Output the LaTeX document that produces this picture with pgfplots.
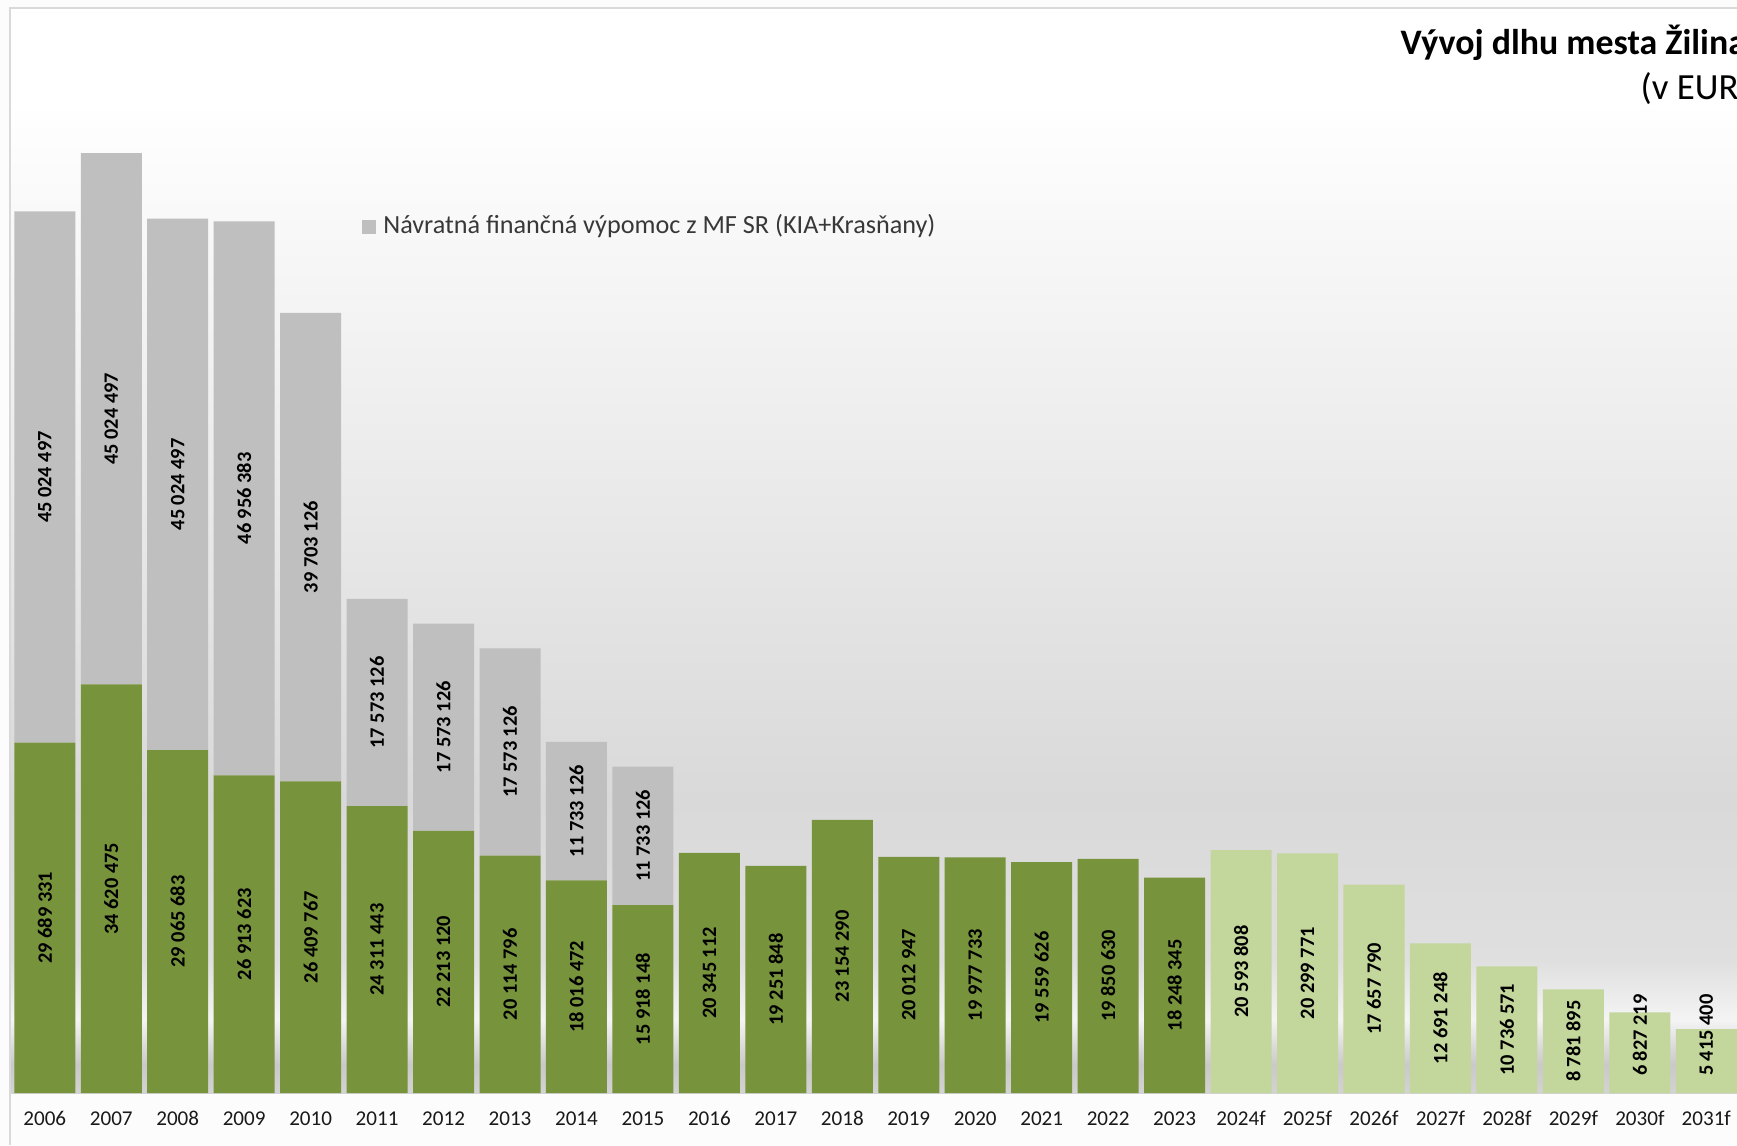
\documentclass[border=0pt]{standalone}
\usepackage{pgfplots}
\pgfplotsset{compat=1.18}
\usepackage{pgfplotstable}
\usepackage{fontspec}
\setmainfont{Carlito}
\definecolor{dgreen}{HTML}{77933C}
\definecolor{lgreen}{HTML}{C3D69B}
\definecolor{bgray}{HTML}{BFBFBF}
\definecolor{c1}{HTML}{D3D3D3}
\definecolor{c2}{HTML}{C9C9C9}
\definecolor{c3}{HTML}{F4F4F4}
\definecolor{c4}{HTML}{DFDFDF}
\definecolor{c5}{HTML}{D9D9D9}
\definecolor{frame}{HTML}{D9D9D9}

\pgfplotstableread{
x g lg gr
0 29689331 0 45024497
1 34620475 0 45024497
2 29065683 0 45024497
3 26913623 0 46956383
4 26409767 0 39703126
5 24311443 0 17573126
6 22213120 0 17573126
7 20114796 0 17573126
8 18016472 0 11733126
9 15918148 0 11733126
10 20345112 0 0
11 19251848 0 0
12 23154290 0 0
13 20012947 0 0
14 19977733 0 0
15 19559626 0 0
16 19850630 0 0
17 18248345 0 0
18 0 20593808 0
19 0 20299771 0
20 0 17657790 0
21 0 12691248 0
22 0 10736571 0
23 0 8781895 0
24 0 6827219 0
25 0 5415400 0
}\bars

\pgfplotstableread[col sep=comma]{
x,y,label
0,14844665,29 689 331
1,17310238,34 620 475
2,14532842,29 065 683
3,13456812,26 913 623
4,13204884,26 409 767
5,12155722,24 311 443
6,11106560,22 213 120
7,10057398,20 114 796
8,9008236,18 016 472
9,7959074,15 918 148
10,10172556,20 345 112
11,9625924,19 251 848
12,11577145,23 154 290
13,10006474,20 012 947
14,9988867,19 977 733
15,9779813,19 559 626
16,9925315,19 850 630
17,9124173,18 248 345
18,10296904,20 593 808
19,10149886,20 299 771
20,8828895,17 657 790
21,6345624,12 691 248
22,5368286,10 736 571
23,4390948,8 781 895
24,4900000,6 827 219
25,4900000,5 415 400
0,52201580,45 024 497
1,57132724,45 024 497
2,51577932,45 024 497
3,50391815,46 956 383
4,46261330,39 703 126
5,33098006,17 573 126
6,30999683,17 573 126
7,28901359,17 573 126
8,23883035,11 733 126
9,21784711,11 733 126
}\labels

\pgfplotsset{
  commonaxis/.style={
    scale only axis,
    width=172.7mm, height=108.3mm,
    xmin=-0.5236, xmax=25.462,
    ymin=0, ymax=91779661,
  }
}

\begin{document}
\begin{tikzpicture}
\useasboundingbox (0,0) rectangle (173.7mm,114.5mm);
\fill[white!99!black] (0,0) rectangle (173.7mm,114.5mm);
% background gradient of the plot area
\shade[bottom color=c1, top color=c2] (1.0mm,5.2mm) rectangle (173.7mm,8.0mm);
\shade[bottom color=c2, top color=c3] (1.0mm,8.0mm) rectangle (173.7mm,12.5mm);
\shade[bottom color=c3, top color=c4] (1.0mm,12.5mm) rectangle (173.7mm,18.5mm);
\shade[bottom color=c4, top color=c5] (1.0mm,18.5mm) rectangle (173.7mm,34.5mm);
\shade[bottom color=c5, top color=white] (1.0mm,34.5mm) rectangle (173.7mm,104.5mm);
\fill[white] (1.0mm,104.5mm) rectangle (173.7mm,113.6mm);
\draw[frame, line width=0.17mm] (1.0mm,0) -- (1.0mm,113.67mm) -- (173.7mm,113.67mm);

\begin{axis}[commonaxis,
  at={(1.0mm,5.2mm)}, anchor=south west,
  ybar stacked, bar width=0.918,
  axis line style={draw=none},
  major tick length=0pt,
  ytick=\empty,
  xtick={0,...,25},
  xticklabels={2006,2007,2008,2009,2010,2011,2012,2013,2014,2015,2016,2017,2018,2019,2020,2021,2022,2023,2024f,2025f,2026f,2027f,2028f,2029f,2030f,2031f},
  xticklabel style={font=\fontsize{6}{7}\selectfont, anchor=base, yshift=-3.2mm, text=black!90},
  legend style={at={(0.2036,0.7997)}, anchor=west, draw=none, fill=none,
    font=\fontsize{7.45}{9}\selectfont, text=black!78, inner sep=0pt},
  legend image code/.code={\fill[bgray] (0mm,-0.7mm) rectangle (1.4mm,0.7mm);},
]
\addplot[fill=dgreen, draw=none, forget plot] table[x=x, y=g] {\bars};
\addplot[fill=lgreen, draw=none, forget plot] table[x=x, y=lg] {\bars};
\addplot[fill=bgray, draw=none] table[x=x, y=gr] {\bars};
\addlegendentry{Návratná finančná výpomoc z MF SR (KIA+Krasňany)}
\end{axis}

\begin{axis}[commonaxis,
  at={(1.0mm,5.2mm)}, anchor=south west,
  hide axis, clip=false,
]
\addplot[draw=none, mark=none, nodes near coords, point meta=explicit symbolic,
  nodes near coords style={rotate=90, anchor=center, inner sep=0pt,
    font=\bfseries\fontsize{5.8}{6}\selectfont, text=black}]
  table[x=x, y=y, meta=label] {\labels};
\end{axis}

% title box
\fill[white] (139.3mm,103.7mm) rectangle (173.7mm,113.5mm);
\node[anchor=base west, inner sep=0pt, font=\bfseries\fontsize{10.2}{12}\selectfont] at (140.0mm,109.0mm) {Vývoj dlhu mesta Žilina};
\node[anchor=base west, inner sep=0pt, font=\fontsize{10.5}{12}\selectfont] at (164.0mm,104.5mm) {(v EUR)};
\end{tikzpicture}
\end{document}
